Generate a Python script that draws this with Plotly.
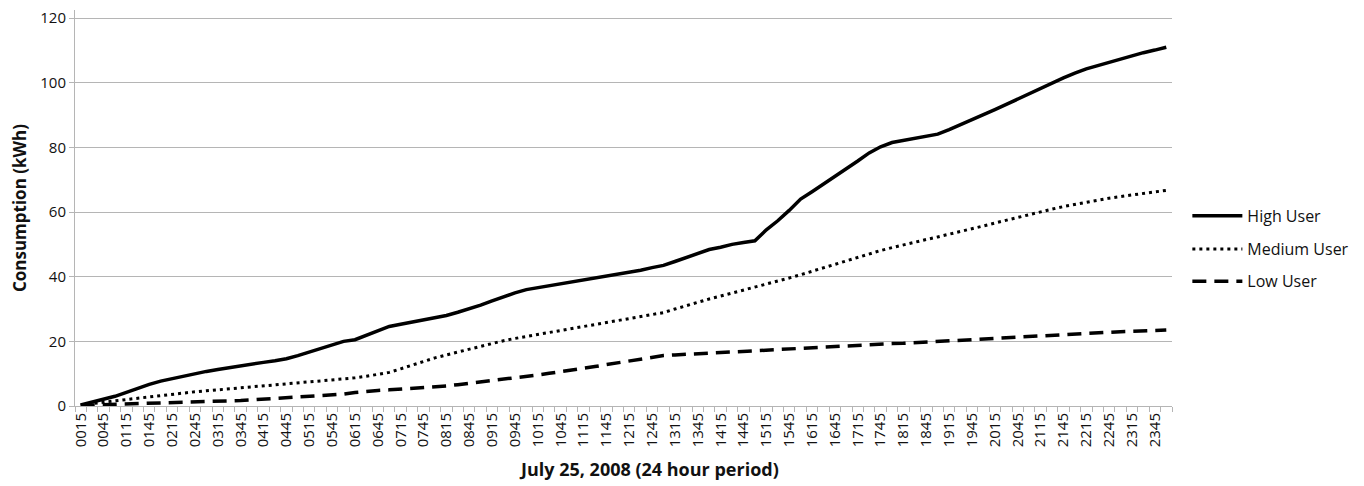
import plotly.graph_objects as go

# 15-minute readings, July 25 2008 (0015 ... 2345, 0000)
times = [f"{(15 * (k + 1)) // 60 % 24:02d}{(15 * (k + 1)) % 60:02d}" for k in range(96)]

high_user = [
    0.3, 1.2, 2.0, 3.0, 4.2, 5.5, 6.7, 7.7, 8.5, 9.2, 9.9, 10.7,
    11.3, 11.9, 12.5, 13.0, 13.5, 14.0, 14.6, 15.6, 16.7, 17.8, 18.9, 20.0,
    20.5, 21.9, 23.3, 24.6, 25.3, 26.0, 26.6, 27.2, 28.0, 29.0, 30.0, 31.2,
    32.5, 33.8, 35.0, 36.0, 36.6, 37.2, 37.7, 38.3, 39.0, 39.6, 40.2, 40.9,
    41.5, 42.0, 42.8, 43.5, 44.7, 46.0, 47.3, 48.4, 49.1, 50.0, 50.6, 51.1,
    54.5, 57.3, 60.5, 64.0, 66.3, 68.6, 71.0, 73.3, 75.8, 78.3, 80.2, 81.5,
    82.2, 82.8, 83.5, 84.1, 85.5, 87.0, 88.5, 90.1, 91.7, 93.3, 95.0, 96.6,
    98.2, 99.8, 101.5, 103.0, 104.3, 105.3, 106.3, 107.4, 108.4, 109.3, 110.1, 111.0,
]

medium_user = [
    0.3, 0.8, 1.2, 1.6, 2.0, 2.4, 2.8, 3.3, 3.8, 4.1, 4.4, 4.7,
    5.0, 5.4, 5.7, 6.0, 6.2, 6.5, 6.8, 7.1, 7.4, 7.7, 8.0, 8.3,
    8.7, 9.2, 9.8, 10.4, 11.5, 12.7, 13.9, 14.9, 15.8, 16.7, 17.6, 18.5,
    19.4, 20.2, 20.9, 21.5, 22.1, 22.8, 23.5, 24.1, 24.7, 25.3, 25.8, 26.4,
    27.0, 27.6, 28.2, 28.9, 30.0, 31.1, 32.1, 33.1, 34.0, 34.9, 35.8, 36.7,
    37.6, 38.6, 39.6, 40.6, 41.7, 42.8, 43.9, 45.0, 46.1, 47.2, 48.1, 49.0,
    49.9, 50.7, 51.5, 52.3, 53.1, 53.9, 54.8, 55.7, 56.6, 57.5, 58.4, 59.3,
    60.1, 60.9, 61.7, 62.4, 63.1, 63.7, 64.3, 64.8, 65.3, 65.8, 66.3, 66.7,
]

low_user = [
    0.2, 0.3, 0.4, 0.5, 0.6, 0.7, 0.7, 0.8, 0.9, 1.0, 1.1, 1.2,
    1.3, 1.5, 1.7, 1.9, 2.1, 2.3, 2.5, 2.7, 2.9, 3.1, 3.3, 3.7,
    4.2, 4.6, 4.8, 5.0, 5.2, 5.4, 5.6, 5.9, 6.2, 6.6, 7.0, 7.4,
    7.8, 8.3, 8.7, 9.1, 9.6, 10.1, 10.6, 11.0, 11.6, 12.2, 12.8, 13.4,
    14.0, 14.6, 15.2, 15.6, 15.8, 16.0, 16.1, 16.3, 16.5, 16.7, 16.9, 17.1,
    17.3, 17.5, 17.7, 17.9, 18.0, 18.2, 18.4, 18.6, 18.8, 19.0, 19.1, 19.3,
    19.4, 19.6, 19.8, 20.0, 20.2, 20.4, 20.6, 20.8, 21.0, 21.2, 21.4, 21.6,
    21.8, 22.0, 22.1, 22.3, 22.5, 22.6, 22.8, 23.0, 23.1, 23.2, 23.4, 23.5,
]

y_ticks = [0, 20, 40, 60, 80, 100, 120]

# only every other time gets a label
tick_text = [t if k % 2 == 0 else "" for k, t in enumerate(times)]

FONT = "Open Sans"
GRID = "#b5b5b5"

fig = go.Figure()
fig.add_trace(go.Scatter(x=times, y=high_user, name="High User", mode="lines",
                         line=dict(color="black", width=3.5), legend="legend"))
fig.add_trace(go.Scatter(x=times, y=medium_user, name="Medium User", mode="lines",
                         line=dict(color="black", width=3, dash="3px,4px"), legend="legend2"))
fig.add_trace(go.Scatter(x=times, y=low_user, name="Low User", mode="lines",
                         line=dict(color="black", width=3.5, dash="14px,8px"), legend="legend3"))

leg = dict(x=1.014, xanchor="left", yanchor="middle", bgcolor="rgba(0,0,0,0)",
           itemwidth=50, font=dict(family=FONT, size=16, color="#111"))

# page body adds an 8px offset, so margins are shifted to compensate
fig.update_layout(
    width=1364, height=486,
    margin=dict(l=67, r=200, t=2, b=88),
    plot_bgcolor="white", paper_bgcolor="white",
    font=dict(family=FONT, color="#111"),
    showlegend=True,
    legend=dict(leg, y=0.480),
    legend2=dict(leg, y=0.396),
    legend3=dict(leg, y=0.315),
    xaxis=dict(
        type="category", tickmode="array", tickvals=times, ticktext=tick_text,
        tickangle=-90, tickfont=dict(size=15), tickson="boundaries",
        ticks="outside", ticklen=5, tickcolor=GRID,
        showgrid=False, showline=True, linecolor=GRID, linewidth=1,
        range=[-0.5, 95.5], automargin=False,
    ),
    yaxis=dict(
        range=[0, 122.5], tickmode="array", tickvals=y_ticks, tickfont=dict(size=15),
        ticks="outside", ticklen=5, tickcolor=GRID, ticklabeloverflow="allow",
        showgrid=True, gridcolor=GRID, gridwidth=1,
        showline=True, linecolor=GRID, linewidth=1, zeroline=False,
        automargin=False,
    ),
    annotations=[
        dict(text="<b>July 25, 2008 (24 hour period)</b>", xref="paper", yref="paper",
             x=0.523, y=-0.16, xanchor="center", yanchor="middle", showarrow=False,
             font=dict(size=18, color="#111")),
        dict(text="<b>Consumption (kWh)</b>", xref="paper", yref="paper",
             x=-0.051, y=0.5, xanchor="center", yanchor="middle", textangle=-90,
             showarrow=False, font=dict(size=17, color="#111")),
    ],
)

fig.write_html("out.html")
